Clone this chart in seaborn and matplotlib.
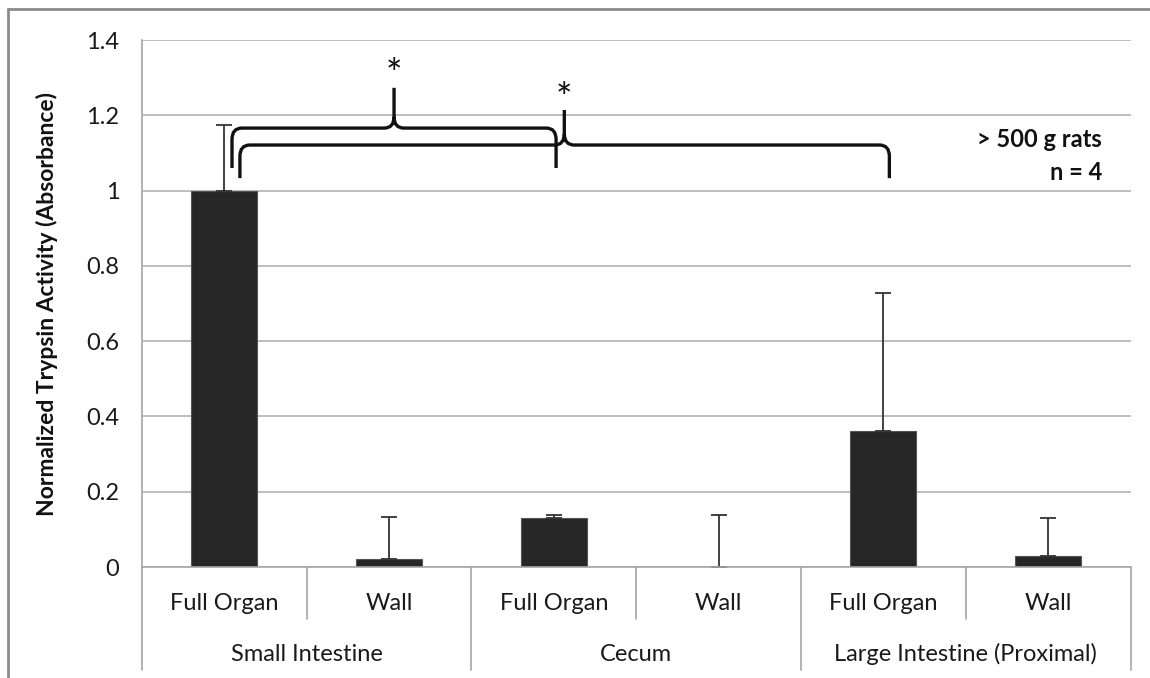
import matplotlib
matplotlib.use("Agg")
import matplotlib.pyplot as plt
import seaborn as sns
import pandas as pd
from matplotlib.path import Path
from matplotlib.patches import PathPatch
from matplotlib.lines import Line2D

# data
groups = ["Small Intestine", "Cecum", "Large Intestine (Proximal)"]
subs = ["Full Organ", "Wall"]
values = [1.0, 0.02, 0.13, 0.0, 0.36, 0.03]
errors = [0.175, 0.113, 0.009, 0.139, 0.367, 0.10]
y_ticks = [0, 0.2, 0.4, 0.6, 0.8, 1.0, 1.2, 1.4]
y_tick_labels = ["0", "0.2", "0.4", "0.6", "0.8", "1", "1.2", "1.4"]

keys = [f"{g}|{s}" for g in groups for s in subs]
df = pd.DataFrame({"key": keys, "value": values})

sns.set_style("white")
plt.rcParams["font.family"] = ["Lato", "DejaVu Sans"]

fig = plt.figure(figsize=(11.5, 6.78), dpi=100)
ax = fig.add_axes([0.1232, 0.1637, 0.86, 0.7773])

sns.barplot(data=df, x="key", y="value", order=keys, width=0.4,
            color="#262626", edgecolor="#555555", linewidth=0.8,
            saturation=1, errorbar=None, ax=ax)
ax.errorbar(range(len(values)), values, yerr=[[0] * len(errors), errors],
            fmt="none", ecolor="#333333", elinewidth=1.3, capsize=6, capthick=1.3)

ax.set_xlim(-0.5, 5.5)
ax.set_ylim(0, 1.4)
ax.set_yticks(y_ticks)
ax.set_yticklabels(y_tick_labels, fontsize=17, color="#1a1a1a")
ax.yaxis.grid(True, color="#b3b3b3", linewidth=1.2)
ax.set_axisbelow(True)
ax.tick_params(axis="y", length=6, color="#a6a6a6", width=1.2, pad=10)
ax.set_xticks([])
ax.set_xlabel("")
ax.set_ylabel("Normalized Trypsin Activity (Absorbance)", fontsize=16.5,
              fontweight="bold", color="#111111")
ax.yaxis.set_label_coords(-0.0846, 0.5)
for side in ["top", "right"]:
    ax.spines[side].set_visible(False)
for side in ["left", "bottom"]:
    ax.spines[side].set_color("#a6a6a6")
    ax.spines[side].set_linewidth(1.2)

# two-level category axis
tr = ax.get_xaxis_transform()
for i, key in enumerate(keys):
    ax.text(i, -0.0683, key.split("|")[1], transform=tr, ha="center",
            va="center", fontsize=17, color="#1a1a1a")
for j, g in enumerate(groups):
    ax.text(2 * j + 0.5, -0.1655, g, transform=tr, ha="center",
            va="center", fontsize=17, color="#1a1a1a")
for xb in [0.5, 2.5, 4.5]:
    ax.add_line(Line2D([xb, xb], [0, -0.0987], transform=tr, color="#a6a6a6",
                       lw=1.2, clip_on=False))
for xb in [-0.5, 1.5, 3.5, 5.5]:
    ax.add_line(Line2D([xb, xb], [0, -0.1954], transform=tr, color="#a6a6a6",
                       lw=1.2, clip_on=False))


def brace(x0, x1, y, tip, px, peak, rx=0.06, ry=0.03):
    verts = [(x0, tip), (x0, y - ry), (x0, y), (x0 + rx, y),
             (px - rx, y), (px, y), (px, y + ry), (px, peak),
             (px, y + ry), (px, y), (px + rx, y),
             (x1 - rx, y), (x1, y), (x1, y - ry), (x1, tip)]
    codes = [Path.MOVETO, Path.LINETO, Path.CURVE3, Path.CURVE3,
             Path.LINETO, Path.CURVE3, Path.CURVE3, Path.LINETO,
             Path.MOVETO, Path.CURVE3, Path.CURVE3,
             Path.LINETO, Path.CURVE3, Path.CURVE3, Path.LINETO]
    ax.add_patch(PathPatch(Path(verts, codes), fill=False, lw=2.4,
                           edgecolor="#111111", clip_on=False,
                           capstyle="butt", joinstyle="round"))


brace(0.048, 2.014, 1.166, 1.060, 1.031, 1.273)
brace(0.096, 4.036, 1.121, 1.033, 2.064, 1.214)
ax.text(1.031, 1.305, "*", ha="center", va="center", fontsize=28, color="#111111")
ax.text(2.064, 1.24, "*", ha="center", va="center", fontsize=28, color="#111111")

ax.text(5.327, 1.137, "> 500 g rats", ha="right", va="center", fontsize=17,
        fontweight="bold", color="#111111")
ax.text(5.327, 1.047, "n = 4", ha="right", va="center", fontsize=17,
        fontweight="bold", color="#111111")

# outer chart frame
fig.add_artist(Line2D([0.007, 0.007], [0, 0.986], color="#8c8c8c", lw=2))
fig.add_artist(Line2D([0.007, 1], [0.986, 0.986], color="#8c8c8c", lw=2))

fig.savefig("out.png", dpi=100)
